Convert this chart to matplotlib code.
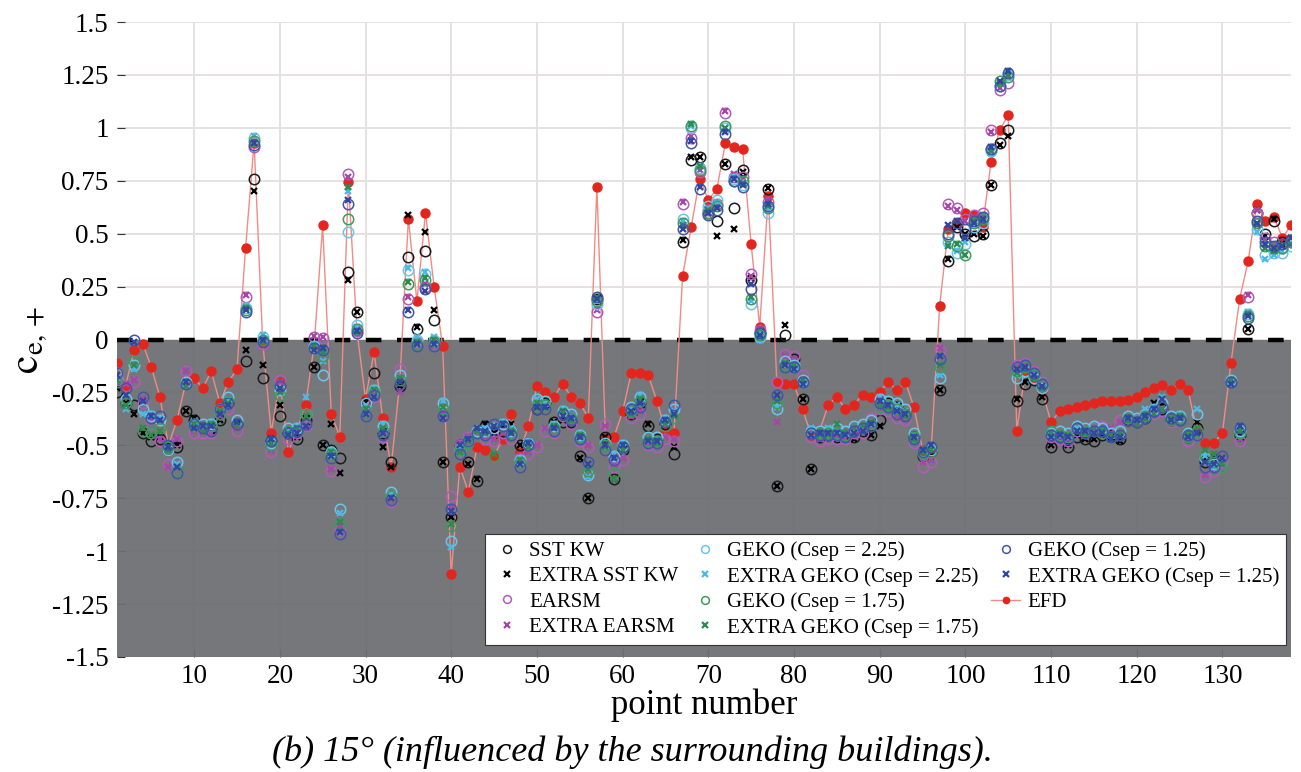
import numpy as np
import matplotlib
matplotlib.use('Agg')
import matplotlib.pyplot as plt
from matplotlib.lines import Line2D

plt.rcParams['font.family'] = ['Liberation Serif', 'DejaVu Serif']
plt.rcParams['mathtext.fontset'] = 'stix'

# point numbers 1..138
points = list(range(1, 139))

efd = [-0.11, -0.22, -0.05, -0.02, -0.13, -0.27, -0.50, -0.38, -0.21, -0.18,
       -0.23, -0.15, -0.30, -0.20, -0.14, 0.43, 0.93, -0.01, -0.44, -0.20,
       -0.53, -0.43, -0.31, -0.03, 0.54, -0.35, -0.46, 0.745, 0.04, -0.28,
       -0.06, -0.37, -0.60, -0.20, 0.57, 0.18, 0.60, 0.25, -0.03, -1.11,
       -0.60, -0.72, -0.51, -0.52, -0.55, -0.47, -0.35, -0.53, -0.41, -0.22,
       -0.25, -0.27, -0.21, -0.27, -0.30, -0.37, 0.72, -0.46, -0.46, -0.34,
       -0.16, -0.16, -0.17, -0.29, -0.43, -0.44, 0.30, 0.53, 0.76, 0.66,
       0.71, 0.93, 0.91, 0.90, 0.45, 0.06, 0.68, -0.20, -0.21, -0.21,
       -0.33, -0.45, -0.43, -0.31, -0.27, -0.33, -0.31, -0.26, -0.27, -0.25,
       -0.20, -0.24, -0.20, -0.32, -0.52, -0.53, 0.16, 0.52, 0.55, 0.60,
       0.59, 0.53, 0.84, 0.99, 1.06, -0.43, -0.15, -0.18, -0.25, -0.39,
       -0.34, -0.33, -0.32, -0.31, -0.30, -0.29, -0.29, -0.29, -0.285, -0.27,
       -0.25, -0.23, -0.215, -0.24, -0.21, -0.24, -0.43, -0.49, -0.49, -0.44,
       -0.11, 0.19, 0.37, 0.64, 0.56, 0.58, 0.48, 0.54]

sst_kw = [-0.25, -0.30, -0.31, -0.44, -0.48, -0.47, -0.52, -0.51, -0.34, -0.38,
          -0.42, -0.42, -0.38, -0.30, -0.40, -0.10, 0.76, -0.18, -0.48, -0.36,
          -0.44, -0.47, -0.38, -0.13, -0.50, -0.52, -0.56, 0.32, 0.13, -0.30,
          -0.16, -0.44, -0.58, -0.22, 0.39, 0.05, 0.42, 0.09, -0.58, -0.84,
          -0.50, -0.58, -0.67, -0.41, -0.44, -0.43, -0.43, -0.50, -0.49, -0.33,
          -0.30, -0.39, -0.39, -0.39, -0.55, -0.75, 0.19, -0.46, -0.66, -0.52,
          -0.35, -0.30, -0.41, -0.47, -0.40, -0.54, 0.46, 0.85, 0.86, 0.60,
          0.56, 0.83, 0.62, 0.80, 0.28, 0.03, 0.71, -0.69, 0.02, -0.09,
          -0.28, -0.61, -0.46, -0.45, -0.46, -0.45, -0.46, -0.43, -0.45, -0.38,
          -0.30, -0.32, -0.35, -0.46, -0.55, -0.53, -0.24, 0.37, 0.53, 0.50,
          0.49, 0.50, 0.73, 0.93, 0.99, -0.29, -0.21, -0.19, -0.28, -0.51,
          -0.46, -0.51, -0.46, -0.47, -0.48, -0.45, -0.45, -0.47, -0.38, -0.39,
          -0.37, -0.34, -0.33, -0.38, -0.38, -0.46, -0.42, -0.58, -0.57, -0.60,
          -0.20, -0.45, 0.05, 0.60, 0.50, 0.56, 0.46, 0.47]

extra_sst_kw = [-0.23, -0.30, -0.35, -0.44, -0.46, -0.46, -0.50, -0.50, -0.34, -0.37,
                -0.41, -0.43, -0.38, -0.30, -0.40, -0.05, 0.70, -0.12, -0.47, -0.31,
                -0.43, -0.46, -0.37, -0.13, -0.50, -0.40, -0.63, 0.28, 0.13, -0.29,
                -0.25, -0.51, -0.60, -0.22, 0.59, 0.06, 0.51, 0.14, -0.58, -0.84,
                -0.50, -0.59, -0.66, -0.40, -0.44, -0.42, -0.40, -0.50, -0.48, -0.32,
                -0.30, -0.39, -0.38, -0.39, -0.56, -0.75, 0.20, -0.46, -0.66, -0.52,
                -0.34, -0.29, -0.40, -0.47, -0.40, -0.51, 0.47, 0.86, 0.86, 0.60,
                0.49, 0.83, 0.52, 0.79, 0.29, 0.02, 0.715, -0.69, 0.07, -0.09,
                -0.28, -0.61, -0.45, -0.45, -0.45, -0.46, -0.47, -0.43, -0.45, -0.41,
                -0.30, -0.31, -0.35, -0.45, -0.52, -0.55, -0.24, 0.38, 0.53, 0.50,
                0.50, 0.49, 0.73, 0.92, 0.96, -0.28, -0.20, -0.18, -0.27, -0.50,
                -0.46, -0.50, -0.45, -0.47, -0.47, -0.45, -0.46, -0.48, -0.39, -0.40,
                -0.38, -0.30, -0.31, -0.38, -0.37, -0.45, -0.39, -0.57, -0.56, -0.59,
                -0.20, -0.45, 0.05, 0.61, 0.49, 0.57, 0.45, 0.48]

earsm = [-0.19, -0.22, -0.20, -0.30, -0.40, -0.48, -0.59, -0.48, -0.15, -0.44,
         -0.44, -0.44, -0.35, -0.33, -0.43, 0.20, 0.91, -0.02, -0.53, -0.19,
         -0.47, -0.44, -0.41, 0.01, 0.005, -0.62, -0.90, 0.78, 0.04, -0.33,
         -0.27, -0.46, -0.77, -0.14, 0.19, -0.01, 0.25, -0.02, -0.36, -0.74,
         -0.50, -0.46, -0.44, -0.47, -0.48, -0.44, -0.47, -0.56, -0.54, -0.51,
         -0.43, -0.44, -0.36, -0.40, -0.48, -0.51, 0.13, -0.40, -0.60, -0.57,
         -0.37, -0.35, -0.50, -0.51, -0.47, -0.48, 0.64, 0.95, 0.79, 0.61,
         0.64, 1.07, 0.77, 0.77, 0.31, 0.045, 0.65, -0.20, -0.07, -0.08,
         -0.17, -0.46, -0.48, -0.47, -0.47, -0.47, -0.44, -0.44, -0.37, -0.33,
         -0.34, -0.37, -0.38, -0.49, -0.60, -0.58, -0.05, 0.64, 0.62, 0.57,
         0.59, 0.60, 0.99, 1.18, 1.21, -0.12, -0.11, -0.15, -0.20, -0.46,
         -0.47, -0.48, -0.43, -0.44, -0.42, -0.41, -0.43, -0.38, -0.37, -0.38,
         -0.36, -0.35, -0.34, -0.39, -0.38, -0.48, -0.45, -0.65, -0.62, -0.58,
         -0.20, -0.48, 0.20, 0.60, 0.48, 0.46, 0.43, 0.46]

extra_earsm = [-0.17, -0.21, -0.19, -0.28, -0.38, -0.47, -0.60, -0.47, -0.15, -0.43,
               -0.44, -0.44, -0.36, -0.32, -0.42, 0.21, 0.92, -0.01, -0.52, -0.20,
               -0.46, -0.43, -0.42, 0.015, 0.01, -0.61, -0.88, 0.77, 0.05, -0.32,
               -0.26, -0.45, -0.76, -0.25, 0.20, -0.02, 0.26, -0.03, -0.35, -0.79,
               -0.49, -0.46, -0.43, -0.46, -0.47, -0.44, -0.46, -0.55, -0.53, -0.50,
               -0.42, -0.43, -0.35, -0.39, -0.47, -0.50, 0.14, -0.41, -0.59, -0.56,
               -0.36, -0.34, -0.49, -0.50, -0.46, -0.47, 0.65, 0.96, 0.80, 0.61,
               0.63, 1.08, 0.78, 0.76, 0.30, 0.05, 0.66, -0.39, -0.08, -0.09,
               -0.18, -0.45, -0.47, -0.46, -0.46, -0.47, -0.45, -0.43, -0.38, -0.32,
               -0.33, -0.36, -0.37, -0.48, -0.58, -0.57, -0.04, 0.63, 0.61, 0.56,
               0.58, 0.59, 0.98, 1.19, 1.24, -0.13, -0.12, -0.16, -0.21, -0.47,
               -0.46, -0.47, -0.42, -0.43, -0.43, -0.42, -0.42, -0.39, -0.38, -0.39,
               -0.37, -0.34, -0.33, -0.38, -0.37, -0.47, -0.44, -0.64, -0.61, -0.57,
               -0.20, -0.47, 0.21, 0.61, 0.47, 0.45, 0.44, 0.45]

geko_225 = [-0.16, -0.28, -0.12, -0.33, -0.36, -0.38, -0.52, -0.58, -0.20, -0.40,
            -0.40, -0.40, -0.33, -0.27, -0.38, 0.15, 0.95, 0.01, -0.49, -0.24,
            -0.42, -0.42, -0.35, -0.03, -0.17, -0.53, -0.80, 0.51, 0.07, -0.30,
            -0.24, -0.41, -0.72, -0.17, 0.33, 0.00, 0.31, 0.00, -0.30, -0.95,
            -0.52, -0.48, -0.43, -0.43, -0.42, -0.40, -0.43, -0.57, -0.49, -0.28,
            -0.29, -0.41, -0.34, -0.35, -0.45, -0.64, 0.17, -0.49, -0.55, -0.50,
            -0.32, -0.27, -0.46, -0.46, -0.38, -0.33, 0.57, 1.00, 0.81, 0.63,
            0.66, 1.00, 0.76, 0.73, 0.17, 0.01, 0.60, -0.33, -0.10, -0.12,
            -0.19, -0.43, -0.43, -0.43, -0.42, -0.43, -0.41, -0.40, -0.38, -0.28,
            -0.29, -0.30, -0.33, -0.44, -0.53, -0.52, -0.18, 0.46, 0.41, 0.45,
            0.53, 0.55, 0.89, 1.20, 1.25, -0.18, -0.15, -0.18, -0.23, -0.44,
            -0.43, -0.44, -0.41, -0.42, -0.41, -0.42, -0.44, -0.43, -0.36, -0.37,
            -0.35, -0.33, -0.30, -0.36, -0.36, -0.44, -0.35, -0.56, -0.59, -0.60,
            -0.19, -0.43, 0.12, 0.52, 0.40, 0.41, 0.41, 0.44]

extra_geko_225 = [-0.18, -0.33, -0.14, -0.35, -0.35, -0.37, -0.51, -0.59, -0.21, -0.39,
                  -0.41, -0.39, -0.34, -0.28, -0.39, 0.16, 0.96, 0.02, -0.48, -0.25,
                  -0.43, -0.41, -0.27, -0.02, -0.10, -0.52, -0.82, 0.70, 0.06, -0.31,
                  -0.23, -0.40, -0.73, -0.18, 0.34, 0.01, 0.32, 0.01, -0.29, -0.98,
                  -0.51, -0.47, -0.42, -0.42, -0.41, -0.39, -0.42, -0.56, -0.48, -0.28,
                  -0.30, -0.40, -0.33, -0.36, -0.44, -0.65, 0.18, -0.50, -0.54, -0.49,
                  -0.33, -0.26, -0.47, -0.47, -0.37, -0.34, 0.56, 1.01, 0.82, 0.62,
                  0.65, 1.00, 0.77, 0.74, 0.18, 0.00, 0.61, -0.32, -0.11, -0.13,
                  -0.20, -0.42, -0.44, -0.42, -0.43, -0.44, -0.42, -0.41, -0.39, -0.27,
                  -0.30, -0.31, -0.34, -0.45, -0.52, -0.51, -0.17, 0.45, 0.42, 0.46,
                  0.54, 0.56, 0.88, 1.21, 1.26, -0.17, -0.14, -0.17, -0.24, -0.45,
                  -0.44, -0.45, -0.42, -0.43, -0.42, -0.43, -0.45, -0.44, -0.37, -0.38,
                  -0.33, -0.32, -0.27, -0.37, -0.35, -0.45, -0.33, -0.55, -0.60, -0.59,
                  -0.20, -0.42, 0.13, 0.51, 0.38, 0.40, 0.42, 0.45]

geko_175 = [-0.20, -0.30, -0.10, -0.43, -0.44, -0.42, -0.51, -0.62, -0.21, -0.41,
            -0.42, -0.41, -0.35, -0.29, -0.40, 0.14, 0.94, 0.00, -0.50, -0.26,
            -0.43, -0.43, -0.35, -0.04, -0.08, -0.54, -0.87, 0.57, 0.05, -0.34,
            -0.25, -0.43, -0.74, -0.19, 0.26, -0.02, 0.28, -0.01, -0.33, -0.88,
            -0.52, -0.49, -0.44, -0.45, -0.55, -0.41, -0.44, -0.58, -0.50, -0.31,
            -0.31, -0.42, -0.35, -0.37, -0.46, -0.62, 0.18, -0.50, -0.63, -0.51,
            -0.34, -0.29, -0.48, -0.48, -0.41, -0.37, 0.55, 1.01, 0.80, 0.60,
            0.63, 1.01, 0.75, 0.75, 0.19, 0.02, 0.62, -0.30, -0.12, -0.13,
            -0.20, -0.44, -0.44, -0.44, -0.44, -0.45, -0.43, -0.42, -0.40, -0.32,
            -0.31, -0.33, -0.35, -0.46, -0.54, -0.53, -0.13, 0.49, 0.44, 0.40,
            0.55, 0.57, 0.90, 1.22, 1.24, -0.15, -0.13, -0.17, -0.22, -0.43,
            -0.45, -0.46, -0.42, -0.43, -0.43, -0.44, -0.46, -0.45, -0.37, -0.39,
            -0.36, -0.34, -0.32, -0.38, -0.37, -0.46, -0.43, -0.55, -0.58, -0.60,
            -0.20, -0.44, 0.11, 0.55, 0.44, 0.43, 0.43, 0.46]

extra_geko_175 = [-0.19, -0.31, -0.12, -0.42, -0.45, -0.43, -0.52, -0.60, -0.22, -0.40,
                  -0.43, -0.40, -0.34, -0.30, -0.41, 0.15, 0.93, -0.01, -0.49, -0.25,
                  -0.44, -0.42, -0.36, -0.03, -0.06, -0.53, -0.86, 0.72, 0.04, -0.33,
                  -0.24, -0.42, -0.75, -0.18, 0.27, -0.01, 0.29, 0.00, -0.32, -0.87,
                  -0.53, -0.48, -0.43, -0.44, -0.54, -0.40, -0.43, -0.57, -0.51, -0.30,
                  -0.32, -0.41, -0.34, -0.38, -0.45, -0.61, 0.20, -0.51, -0.66, -0.52,
                  -0.35, -0.28, -0.47, -0.49, -0.40, -0.36, 0.54, 1.02, 0.82, 0.61,
                  0.62, 1.00, 0.76, 0.74, 0.20, 0.01, 0.63, -0.29, -0.11, -0.12,
                  -0.19, -0.45, -0.45, -0.45, -0.40, -0.44, -0.42, -0.41, -0.39, -0.31,
                  -0.32, -0.34, -0.36, -0.47, -0.53, -0.52, -0.12, 0.44, 0.45, 0.40,
                  0.56, 0.56, 0.89, 1.21, 1.25, -0.16, -0.14, -0.18, -0.23, -0.44,
                  -0.44, -0.45, -0.43, -0.44, -0.42, -0.43, -0.45, -0.44, -0.38, -0.40,
                  -0.37, -0.35, -0.33, -0.37, -0.36, -0.45, -0.42, -0.52, -0.54, -0.59,
                  -0.19, -0.43, 0.12, 0.54, 0.43, 0.42, 0.44, 0.45]

geko_125 = [-0.16, -0.23, 0.00, -0.27, -0.37, -0.36, -0.50, -0.63, -0.21, -0.40,
            -0.42, -0.43, -0.33, -0.30, -0.40, 0.13, 0.92, -0.01, -0.48, -0.22,
            -0.44, -0.43, -0.40, -0.04, -0.05, -0.56, -0.92, 0.64, 0.03, -0.36,
            -0.26, -0.45, -0.76, -0.21, 0.13, -0.03, 0.24, -0.03, -0.36, -0.80,
            -0.54, -0.48, -0.44, -0.45, -0.40, -0.41, -0.45, -0.60, -0.50, -0.33,
            -0.33, -0.43, -0.35, -0.38, -0.47, -0.58, 0.20, -0.52, -0.57, -0.51,
            -0.33, -0.32, -0.49, -0.49, -0.39, -0.31, 0.52, 0.93, 0.71, 0.59,
            0.61, 0.97, 0.75, 0.72, 0.24, 0.03, 0.63, -0.26, -0.13, -0.13,
            -0.20, -0.44, -0.45, -0.45, -0.45, -0.46, -0.43, -0.42, -0.41, -0.30,
            -0.32, -0.35, -0.36, -0.47, -0.53, -0.51, -0.09, 0.50, 0.55, 0.52,
            0.56, 0.58, 0.90, 1.20, 1.26, -0.13, -0.12, -0.16, -0.21, -0.45,
            -0.46, -0.47, -0.42, -0.44, -0.43, -0.43, -0.46, -0.45, -0.38, -0.39,
            -0.37, -0.34, -0.32, -0.37, -0.38, -0.45, -0.45, -0.60, -0.60, -0.55,
            -0.20, -0.42, 0.10, 0.56, 0.46, 0.44, 0.45, 0.47]

extra_geko_125 = [-0.17, -0.26, -0.01, -0.29, -0.36, -0.38, -0.51, -0.60, -0.20, -0.42,
                  -0.41, -0.41, -0.35, -0.31, -0.39, 0.14, 0.93, 0.00, -0.47, -0.23,
                  -0.45, -0.44, -0.41, -0.05, -0.04, -0.55, -0.91, 0.66, 0.04, -0.35,
                  -0.27, -0.44, -0.75, -0.20, 0.14, -0.02, 0.23, -0.02, -0.37, -0.81,
                  -0.50, -0.47, -0.42, -0.43, -0.41, -0.40, -0.44, -0.59, -0.49, -0.32,
                  -0.32, -0.42, -0.36, -0.37, -0.46, -0.59, 0.19, -0.50, -0.56, -0.50,
                  -0.34, -0.30, -0.48, -0.48, -0.38, -0.35, 0.52, 0.94, 0.72, 0.60,
                  0.62, 0.98, 0.76, 0.73, 0.26, 0.02, 0.64, -0.26, -0.12, -0.14,
                  -0.21, -0.45, -0.44, -0.44, -0.44, -0.45, -0.44, -0.43, -0.40, -0.29,
                  -0.31, -0.34, -0.35, -0.46, -0.52, -0.50, -0.08, 0.54, 0.56, 0.48,
                  0.55, 0.57, 0.91, 1.22, 1.27, -0.14, -0.13, -0.17, -0.22, -0.46,
                  -0.45, -0.46, -0.43, -0.43, -0.44, -0.44, -0.47, -0.46, -0.37, -0.38,
                  -0.36, -0.33, -0.28, -0.38, -0.37, -0.46, -0.44, -0.58, -0.59, -0.56,
                  -0.21, -0.41, 0.11, 0.55, 0.45, 0.43, 0.44, 0.48]

ytick_vals = [1.5, 1.25, 1, 0.75, 0.5, 0.25, 0, -0.25, -0.5, -0.75, -1, -1.25, -1.5]
ytick_labels = ['1.5', '1.25', '1', '0.75', '0.5', '0.25', '0', '-0.25', '-0.5',
                '-0.75', '-1', '-1.25', '-1.5']
xtick_vals = [10, 20, 30, 40, 50, 60, 70, 80, 90, 100, 110, 120, 130]

# label, data, marker, colour
cfd_series = [
    ('SST KW', sst_kw, 'o', '#1a1a1a'),
    ('EXTRA SST KW', extra_sst_kw, 'x', '#000000'),
    ('EARSM', earsm, 'o', '#b25cb8'),
    ('EXTRA EARSM', extra_earsm, 'x', '#a546a8'),
    ('GEKO (Csep = 2.25)', geko_225, 'o', '#6cc5ea'),
    ('EXTRA GEKO (Csep = 2.25)', extra_geko_225, 'x', '#4cb8e6'),
    ('GEKO (Csep = 1.75)', geko_175, 'o', '#3f9a5e'),
    ('EXTRA GEKO (Csep = 1.75)', extra_geko_175, 'x', '#2f8a4e'),
    ('GEKO (Csep = 1.25)', geko_125, 'o', '#4256a8'),
    ('EXTRA GEKO (Csep = 1.25)', extra_geko_125, 'x', '#2e47a0'),
]

fig = plt.figure(figsize=(13.01, 7.72), dpi=100)
ax = fig.add_axes([117 / 1301, 115 / 772, 1174 / 1301, 635 / 772])

ax.set_xlim(1, 138)
ax.set_ylim(-1.5, 1.5)

ax.grid(True, color='#e6e1e1', lw=1.4)
ax.set_axisbelow(True)
ax.axhspan(-1.5, 0, color='#6c6f72', alpha=0.94, zorder=1, lw=0)
ax.axhline(0, color='black', lw=3.2, dashes=(3.5, 3.5), zorder=2)

ax.plot(points, efd, '-', color='#f08c86', lw=1.0, zorder=3)
ax.plot(points, efd, 'o', color='#e3261d', ms=6.5, mec='#e3261d', zorder=3.5)

handles = []
for i, (label, vals, mk, col) in enumerate(cfd_series):
    if mk == 'o':
        h, = ax.plot(points, vals, 'o', mfc='none', mec=col, ms=7.5, mew=1.1,
                     label=label, zorder=4 + i * 0.01)
    else:
        h, = ax.plot(points, vals, 'x', color=col, ms=5, mew=1.6,
                     label=label, zorder=4 + i * 0.01)
    handles.append(h)

efd_handle = Line2D([], [], color='#f08c86', lw=1.0, marker='o', ms=6,
                    mfc='#e3261d', mec='#e3261d')
handles.append(efd_handle)
labels = [s[0] for s in cfd_series] + ['EFD']

leg = ax.legend(handles, labels, ncol=3, loc='lower right',
                bbox_to_anchor=(0.996, 0.019), borderaxespad=0, fontsize=15,
                frameon=True, fancybox=False, edgecolor='#333333', framealpha=1,
                labelspacing=0.28, handlelength=1.4, handletextpad=0.35,
                columnspacing=0.6, borderpad=0.35, markerscale=0.75)
leg.get_frame().set_linewidth(0.8)
leg.set_zorder(10)

ax.set_yticks(ytick_vals)
ax.set_yticklabels(ytick_labels)
ax.set_xticks(xtick_vals)
ax.tick_params(axis='both', direction='in', length=6, width=0.8, color='#333333',
               labelsize=19.5)
ax.tick_params(axis='y', pad=6)
ax.tick_params(axis='x', pad=5)
for sp in ax.spines.values():
    sp.set_visible(False)

ax.set_xlabel('point number', fontsize=25, labelpad=0)
ax.set_ylabel(r'$\mathrm{c}_{\mathrm{e,+}}$', fontsize=30, labelpad=2)

fig.text(0.486, 0.026, '(b) 15° (influenced by the surrounding buildings).',
         fontsize=26, style='italic', ha='center', va='center')

fig.savefig('out.png', dpi=100)
